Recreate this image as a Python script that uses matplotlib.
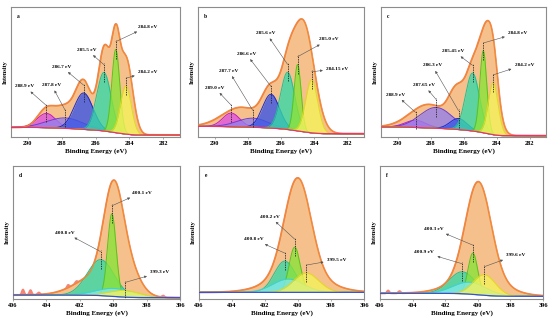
import numpy as np
import matplotlib
matplotlib.use('Agg')
import matplotlib.pyplot as plt

plt.rcParams['font.family'] = ['Liberation Serif', 'DejaVu Serif']

# ---------------- data ----------------
c1s_ticks = [290, 288, 286, 284, 282]
n1s_ticks = [406, 404, 402, 400, 398, 396]
c1s_colors = ['magenta', 'purple', 'blue', 'teal', 'green', 'yellow']
n1s_colors = ['teal', 'green', 'cyan', 'yellow']

# panel a (C 1s)
a_centers = [288.9, 287.8, 286.7, 285.5, 284.8, 284.2]
a_heights = [11, 8, 28, 45, 64, 37]
a_fwhm = [1.3, 2.5, 1.3, 1.0, 0.55, 0.75]
a_labels = ['288.9 eV', '287.8 eV', '286.7 eV', '285.5 eV', '284.8 eV', '284.2 eV']
a_label_x = [290.2, 288.6, 288.0, 286.5, 282.9, 282.9]
a_label_y = [39, 40, 54, 67, 85, 50]
a_env_centers = [288.9, 287.8, 286.7, 285.45, 284.8, 284.2]
a_env_heights = [14, 15, 36, 64, 54, 58]
a_env_fwhm = [1.2, 1.3, 1.1, 0.85, 0.55, 0.9]
a_bg = [7.4, 1.5]

# panel b (C 1s)
b_centers = [289.0, 287.7, 286.6, 285.6, 285.0, 284.15]
b_heights = [10.5, 7, 26, 44, 51, 41]
b_fwhm = [1.2, 2.2, 1.2, 1.0, 0.5, 0.85]
b_labels = ['289.0 eV', '287.7 eV', '286.6 eV', '285.6 eV', '285.0 eV', '284.15 eV']
b_label_x = [290.0, 289.15, 288.1, 286.9, 283.1, 282.6]
b_label_y = [38, 51, 64, 80, 75, 52.6]
b_env_centers = [284.65, 285.6, 286.6, 288.4]
b_env_heights = [83, 32, 28, 15]
b_env_fwhm = [1.5, 1.0, 1.2, 2.6]
b_bg = [8.2, 2.5]

# panel c (C 1s)
c_centers = [288.9, 287.65, 286.3, 285.45, 284.8, 284.2]
c_heights = [5.5, 16, 8.5, 44.5, 63, 40]
c_fwhm = [1.5, 2.3, 1.2, 1.0, 0.5, 0.7]
c_labels = ['288.9 eV', '287.65 eV', '286.3 eV', '285.45 eV', '284.8 eV', '284.2 eV']
c_label_x = [290.1, 288.4, 287.9, 286.6, 282.7, 282.3]
c_label_y = [32.6, 40, 55, 66, 80, 55.6]
c_env_centers = [284.55, 284.15, 285.45, 286.4, 288.1]
c_env_heights = [78, 15, 40, 26, 18]
c_env_fwhm = [1.1, 0.6, 1.0, 1.1, 2.6]
c_bg = [7.7, 1.0]

# panel d (N 1s)
d_centers = [400.75, 400.08, 399.9, 399.3]
d_heights = [27, 62, 6, 5]
d_fwhm = [1.9, 0.6, 2.6, 2.2]
d_labels = ['400.8 eV', '400.1 eV', None, '399.3 eV']
d_label_x = [402.9, 398.3, None, 397.2]
d_label_y = [50, 80, None, 20]
d_env_centers = [400.0, 400.9, 399.1]
d_env_heights = [68, 15, 18]
d_env_fwhm = [1.35, 3.0, 1.6]
d_bg = [3.0, 1.0]
d_noise_centers = [405.4, 404.95, 404.45, 402.7, 402.2, 397.0]
d_noise_heights = [4.0, 3.5, 1.5, 2.0, 1.5, 1.2]

# panel e (N 1s)
e_centers = [400.8, 400.2, 400.6, 399.5]
e_heights = [23.5, 34, 10, 14.5]
e_fwhm = [1.5, 0.8, 2.2, 1.8]
e_labels = ['400.8 eV', '400.2 eV', None, '399.5 eV']
e_label_x = [402.7, 401.7, None, 397.65]
e_label_y = [45, 62, None, 29.5]
e_env_centers = [400.02, 400.02]
e_env_heights = [72, 14]
e_env_fwhm = [1.85, 3.8]
e_bg = [5.0, 5.0]

# panel f (N 1s)
f_centers = [400.95, 400.3, 400.5, 399.6]
f_heights = [16.5, 31, 9, 15.5]
f_fwhm = [1.9, 0.7, 2.4, 1.6]
f_labels = ['400.9 eV', '400.3 eV', None, '399.6 eV']
f_label_x = [403.3, 402.7, None, 397.65]
f_label_y = [35, 52.8, None, 33]
f_env_centers = [399.97, 399.97]
f_env_heights = [72, 13]
f_env_fwhm = [1.8, 3.6]
f_bg = [4.3, 2.0]
f_noise_centers = [405.5, 404.8]
f_noise_heights = [2.0, 1.5]

# ---------------- style ----------------
fill_cols = {'magenta': '#E054E0', 'purple': '#9580EA', 'blue': '#3A55E6',
             'teal': '#36D9A6', 'green': '#8BE23A', 'yellow': '#F3F15A',
             'cyan': '#7FE9EC'}
edge_cols = {'magenta': '#C21EC2', 'purple': '#6A40D2', 'blue': '#1A2BC8',
             'teal': '#1FBF95', 'green': '#5CC21A', 'yellow': '#E2D81E',
             'cyan': '#3FD2D2'}
ENV_FILL = '#F5C08C'
ENV_EDGE = '#F0892C'
RAW_COL = '#F28478'


def gauss(x, c, h, w):
    s = w / 2.3548
    return h * np.exp(-(x - c) ** 2 / (2 * s * s))


def draw_panel(ax, letter, xlim, ticks, centers, heights, fwhm, colors,
               labels, lab_x, lab_y, env_c, env_h, env_w, bg_levels,
               base_col, noise_c=None, noise_h=None):
    x = np.linspace(min(xlim), max(xlim), 1200)
    peaks_env = sum(gauss(x, c, h, w) for c, h, w in zip(env_c, env_h, env_w))
    cum = np.concatenate([[0], np.cumsum((peaks_env[1:] + peaks_env[:-1]) / 2 * np.diff(x))])
    frac = cum / cum[-1]
    bg = bg_levels[1] + (bg_levels[0] - bg_levels[1]) * frac
    env = bg + peaks_env
    raw = env.copy()
    if noise_c is not None:
        raw = raw + sum(gauss(x, c, h, 0.15) for c, h in zip(noise_c, noise_h))
    ax.fill_between(x, bg, raw, color=RAW_COL, lw=0, zorder=0.8)
    ax.plot(x, raw, color=RAW_COL, lw=1.5, zorder=0.9, solid_capstyle='butt')
    ax.fill_between(x, bg, env, color=ENV_FILL, lw=0, zorder=1)
    for i, (c, h, w, col) in enumerate(zip(centers, heights, fwhm, colors)):
        g = gauss(x, c, h, w)
        ax.fill_between(x, bg, bg + g, color=fill_cols[col], alpha=0.8, lw=0, zorder=2 + i)
        ax.plot(x, bg + g, color=edge_cols[col], lw=0.7, zorder=2.5 + i)
    ax.plot(x, env, color=ENV_EDGE, lw=0.9, zorder=20)
    ax.plot(x, bg, color=base_col, lw=0.9, zorder=21)
    # peak markers and annotations
    for c, h, lab, lx, ly in zip(centers, heights, labels, lab_x, lab_y):
        if lab is None:
            continue
        top = np.interp(c, x, bg) + h
        ax.plot([c, c], [top - 7, top + 7], color='#222222', lw=0.6,
                linestyle=(0, (1.6, 1.2)), zorder=30)
        ax.annotate(lab, xy=(c, top + 6), xytext=(lx, ly), fontsize=3.8,
                    fontweight='bold', ha='center', va='center', zorder=31,
                    arrowprops=dict(arrowstyle='<|-', color='#555555', lw=0.4,
                                    mutation_scale=3.5, shrinkA=0.5, shrinkB=0))
    ax.set_xlim(xlim)
    ax.set_ylim(0, 100)
    ax.set_xticks(ticks)
    ax.set_xticklabels([str(t) for t in ticks])
    ax.set_yticks([])
    ax.tick_params(axis='x', labelsize=4.5, length=1.5, width=0.5, pad=1.5,
                   color='#888888')
    for lbl in ax.get_xticklabels():
        lbl.set_fontweight('bold')
    for sp in ax.spines.values():
        sp.set_color('#8c8c8c')
        sp.set_linewidth(0.8)
    ax.set_xlabel('Binding Energy (eV)', fontsize=5, fontweight='bold', labelpad=1.5)
    ax.set_ylabel('Intensity', fontsize=4.5, fontweight='bold', labelpad=2)
    ax.text(0.035, 0.95, letter, transform=ax.transAxes, fontsize=4,
            fontweight='bold', va='top', ha='left')


fig = plt.figure(figsize=(5.5, 3.23), dpi=100)
W, H = 550.0, 323.0
top_row = (7, 137)
bot_row = (166, 299)


def make_ax(left, right, row):
    return fig.add_axes([left / W, 1 - row[1] / H, (right - left) / W, (row[1] - row[0]) / H])


axes_top = [make_ax(11, 180, top_row), make_ax(198, 364, top_row), make_ax(381, 546, top_row)]
axes_bot = [make_ax(13, 180, bot_row), make_ax(199, 364, bot_row), make_ax(380, 543, bot_row)]

RED_BASE = '#E8336B'
BLUE_BASE = '#3550D8'

draw_panel(axes_top[0], 'a', (291, 281), c1s_ticks, a_centers, a_heights, a_fwhm,
           c1s_colors, a_labels, a_label_x, a_label_y, a_env_centers, a_env_heights,
           a_env_fwhm, a_bg, RED_BASE)
draw_panel(axes_top[1], 'b', (291, 281), c1s_ticks, b_centers, b_heights, b_fwhm,
           c1s_colors, b_labels, b_label_x, b_label_y, b_env_centers, b_env_heights,
           b_env_fwhm, b_bg, RED_BASE)
draw_panel(axes_top[2], 'c', (291, 281), c1s_ticks, c_centers, c_heights, c_fwhm,
           c1s_colors, c_labels, c_label_x, c_label_y, c_env_centers, c_env_heights,
           c_env_fwhm, c_bg, RED_BASE)
draw_panel(axes_bot[0], 'd', (406, 396), n1s_ticks, d_centers, d_heights, d_fwhm,
           n1s_colors, d_labels, d_label_x, d_label_y, d_env_centers, d_env_heights,
           d_env_fwhm, d_bg, BLUE_BASE, d_noise_centers, d_noise_heights)
draw_panel(axes_bot[1], 'e', (406, 396), n1s_ticks, e_centers, e_heights, e_fwhm,
           n1s_colors, e_labels, e_label_x, e_label_y, e_env_centers, e_env_heights,
           e_env_fwhm, e_bg, BLUE_BASE)
draw_panel(axes_bot[2], 'f', (406, 396), n1s_ticks, f_centers, f_heights, f_fwhm,
           n1s_colors, f_labels, f_label_x, f_label_y, f_env_centers, f_env_heights,
           f_env_fwhm, f_bg, BLUE_BASE, f_noise_centers, f_noise_heights)

fig.savefig('out.png', dpi=100)
